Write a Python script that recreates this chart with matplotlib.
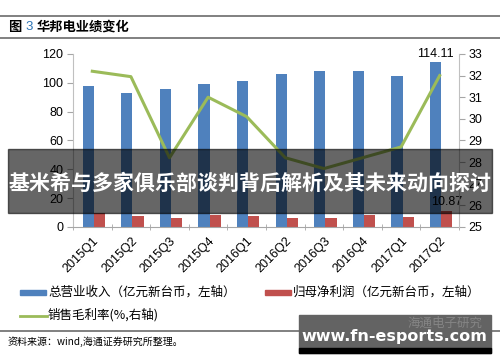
import numpy as np
import matplotlib
matplotlib.use("Agg")
import matplotlib.pyplot as plt
from matplotlib.patches import Rectangle
from matplotlib.lines import Line2D

plt.rcParams['font.family'] = ['Liberation Sans', 'Noto Sans CJK SC', 'DejaVu Sans']

quarters = ['2015Q1', '2015Q2', '2015Q3', '2015Q4', '2016Q1',
            '2016Q2', '2016Q3', '2016Q4', '2017Q1', '2017Q2']
revenue = [97.7, 93.2, 95.8, 99.1, 101.4, 105.8, 107.9, 108.1, 105.0, 114.11]
profit = [9.9, 7.9, 6.5, 8.1, 7.7, 6.3, 6.5, 8.1, 6.7, 10.87]
margin = [32.2, 31.95, 28.2, 31.0, 30.1, 28.2, 27.7, 28.2, 28.7, 32.0]

blue = '#4F81BD'
red = '#C0504D'
green = '#9BBB59'
grey = '#A6A6A6'

fig = plt.figure(figsize=(5, 3.62), dpi=100)
ax = fig.add_axes([0.146, 0.373, 0.772, 0.478])
ax2 = ax.twinx()

x = np.arange(len(quarters))
w = 0.29
ax.bar(x - w / 2 + 0.04, revenue, w, color=blue, zorder=2)
ax.bar(x + w / 2 + 0.04, profit, w, color=red, zorder=2)
ax2.plot(x, margin, color=green, lw=2.2, zorder=3)

ax.set_xlim(-0.5, len(quarters) - 0.5)
ax.set_ylim(0, 120)
ax.set_yticks(range(0, 121, 20))
ax2.set_ylim(25, 33)
ax2.set_yticks(range(25, 34))

ax.set_xticks(np.arange(-0.5, len(quarters), 1), minor=True)
ax.set_xticks(x)
ax.set_xticklabels(quarters, rotation=45, ha='right', rotation_mode='anchor', fontsize=9)
ax.tick_params(axis='x', which='major', length=0, pad=6)
ax.tick_params(axis='x', which='minor', length=4, color=grey, direction='inout')

for a in (ax, ax2):
    for s in a.spines.values():
        s.set_visible(False)
ax.spines['left'].set_visible(True)
ax.spines['left'].set_color('#C0C0C0')
ax.spines['bottom'].set_visible(True)
ax.spines['bottom'].set_color(grey)
ax2.spines['right'].set_visible(True)
ax2.spines['right'].set_color('#C0C0C0')
ax.tick_params(axis='y', labelsize=9, length=4, color=grey, pad=3)
ax2.tick_params(axis='y', labelsize=9, length=4, color=grey, pad=3)

ax.text(x[-1] - w / 2 + 0.04, revenue[-1] + 2, '114.11', ha='center', va='bottom', fontsize=9)
ax.text(x[-1] + w / 2 + 0.04, profit[-1] + 2, '10.87', ha='center', va='bottom', fontsize=9)

# title block
fig.add_artist(Line2D([0, 1], [1 - 16 / 362] * 2, color='#808080', lw=1.4))
fig.add_artist(Line2D([0, 1], [1 - 38 / 362] * 2, color='#808080', lw=1.4))
fig.text(0.016, 1 - 27 / 362, '图', fontsize=9.5, fontweight='bold',
         family='Noto Sans CJK SC', va='center')
fig.text(0.05, 1 - 27 / 362, '3', fontsize=9.5, color='#2E75B6', va='center')
fig.text(0.074, 1 - 27 / 362, '华邦电业绩变化', fontsize=9.5, fontweight='bold',
         family='Noto Sans CJK SC', va='center')

# legend
fig.add_artist(Rectangle((20 / 500, 1 - 295 / 362), 26 / 500, 5 / 362, color=blue))
fig.text(48 / 500, 1 - 292 / 362, '总营业收入（亿元新台币，左轴）', fontsize=9,
         family='Noto Sans CJK SC', va='center')
fig.add_artist(Rectangle((265 / 500, 1 - 295 / 362), 26 / 500, 5 / 362, color=red))
fig.text(293 / 500, 1 - 292 / 362, '归母净利润（亿元新台币，左轴）', fontsize=9,
         family='Noto Sans CJK SC', va='center')
fig.add_artist(Line2D([20 / 500, 47 / 500], [1 - 316 / 362] * 2, color=green, lw=2))
fig.text(48 / 500, 1 - 315 / 362, '销售毛利率(%,右轴)', fontsize=9,
         family=['Noto Sans CJK SC', 'DejaVu Sans'], va='center')

# source
fig.add_artist(Line2D([0, 1], [1 - 331 / 362] * 2, color='#808080', lw=1.4))
fig.text(0.016, 1 - 342 / 362, '资料来源：wind,海通证券研究所整理。', fontsize=7.2,
         family='Noto Sans CJK SC', va='center')

# overlay banner
fig.add_artist(Rectangle((8 / 500, 1 - 213 / 362), 484 / 500, 64 / 362,
                         color='black', alpha=0.6, zorder=10))
fig.text(0.5, 1 - 183 / 362, '基米希与多家俱乐部谈判背后解析及其未来动向探讨', fontsize=15.1,
         fontweight='bold', color='white', ha='center', va='center',
         family='Noto Sans CJK SC', zorder=11)

# watermark box
fig.add_artist(Rectangle((299 / 500, 1 - 353 / 362), 192 / 500, 38 / 362,
                         color='#636363', zorder=10))
fig.add_artist(Rectangle((299 / 500, 1 - 353 / 362), 192 / 500, 5 / 362,
                         color='black', zorder=10))
fig.text(445 / 500, 1 - 323 / 362, '海通电子研究', fontsize=9, color='#858585',
         ha='center', va='center', family='Noto Sans CJK SC', zorder=11)
fig.text(394 / 500, 1 - 337 / 362, 'www.fn-esports.com', fontsize=11.5,
         fontweight='bold', color='white', ha='center', va='center',
         family='DejaVu Sans', zorder=11)

fig.savefig('out.png', dpi=100)
